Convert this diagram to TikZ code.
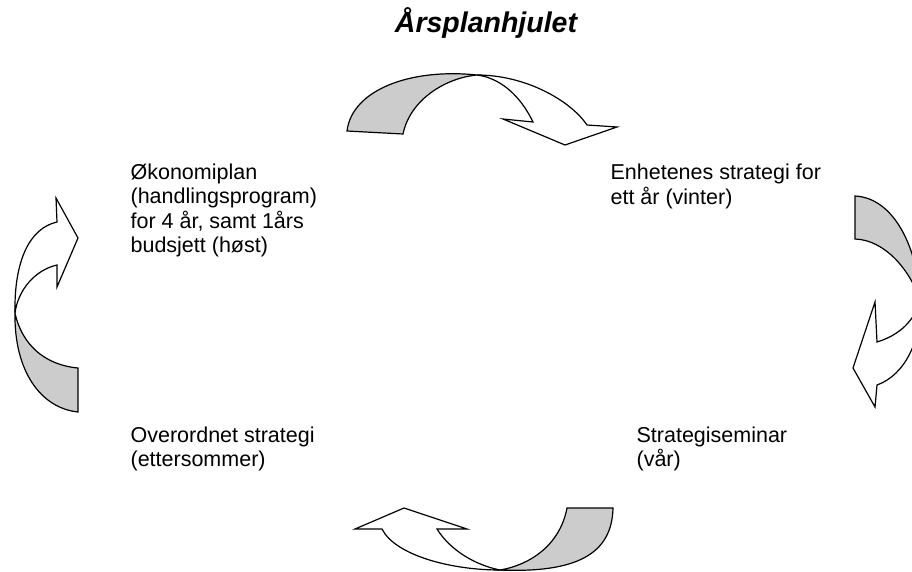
\documentclass[tikz,border=0pt]{standalone}
\usepackage{fontspec}
\setmainfont{Liberation Sans}
\begin{document}
\begin{tikzpicture}[x = 1pt, y = -1pt, line width = 1.2pt,
    back/.style = {draw, fill = gray!40},
    front/.style = {draw, fill = white},
    season/.style = {anchor = base west, align = left, inner sep = 0pt,
        font = \fontsize{21.5}{24.5}\selectfont}]
    \useasboundingbox (0,0) rectangle (912,571);
    \clip (0,0) rectangle (912,571);

    % title
    \node (title) [anchor = base, inner sep = 0pt,
        font = \fontsize{28.5}{30}\selectfont\bfseries\itshape] at (486,32) {Årsplanhjulet};

    % seasons (placed at the baseline of their last line)
    \node (plan) [season] at (130,252.5) {Økonomiplan\\(handlingsprogram)\\for 4 år, samt 1års\\budsjett (høst)};
    \node (units) [season] at (610,204) {Enhetenes strategi for\\ett år (vinter)};
    \node (seminar) [season] at (636,466.5) {Strategiseminar\\(vår)};
    \node (overall) [season] at (130,466.5) {Overordnet strategi\\(ettersommer)};

    % top arrow
    \draw [back] (347,131) .. controls (352,90) and (410,68) .. (477,75)
        .. controls (445,78) and (410,100) .. (403,134) -- cycle;
    \draw [front] (477,75) .. controls (525,75) and (570,100) .. (587,125) -- (617,127)
        -- (565,145) -- (503,119) -- (533,122) .. controls (520,95) and (500,78) .. (477,75) -- cycle;

    % right arrow
    \draw [back] (855,196) .. controls (895,198) and (918,250) .. (920,300)
        .. controls (910,270) and (885,240) .. (855,239) -- cycle;
    \draw [front] (920,300) .. controls (922,340) and (905,375) .. (877,385) -- (875,407)
        -- (853,368) -- (875,302) -- (877,342) .. controls (900,335) and (915,320) .. (920,300) -- cycle;

    % bottom arrow
    \draw [back] (567,508) -- (613,508) .. controls (612,555) and (575,573) .. (500,570)
        .. controls (530,565) and (560,545) .. (567,508) -- cycle;
    \draw [front] (500,570) .. controls (450,570) and (395,555) .. (382,529) -- (355,529)
        -- (404,508) -- (467,529) -- (437,529) .. controls (450,550) and (475,565) .. (500,570) -- cycle;

    % left arrow
    \draw [back] (15,313) .. controls (14,370) and (40,408) .. (78,412) -- (78,368)
        .. controls (45,365) and (22,345) .. (15,313) -- cycle;
    \draw [front] (15,313) .. controls (14,260) and (30,228) .. (57,222) -- (56,198)
        -- (78,238) -- (57,287) -- (57,265) .. controls (35,270) and (18,290) .. (15,313) -- cycle;
\end{tikzpicture}
\end{document}
